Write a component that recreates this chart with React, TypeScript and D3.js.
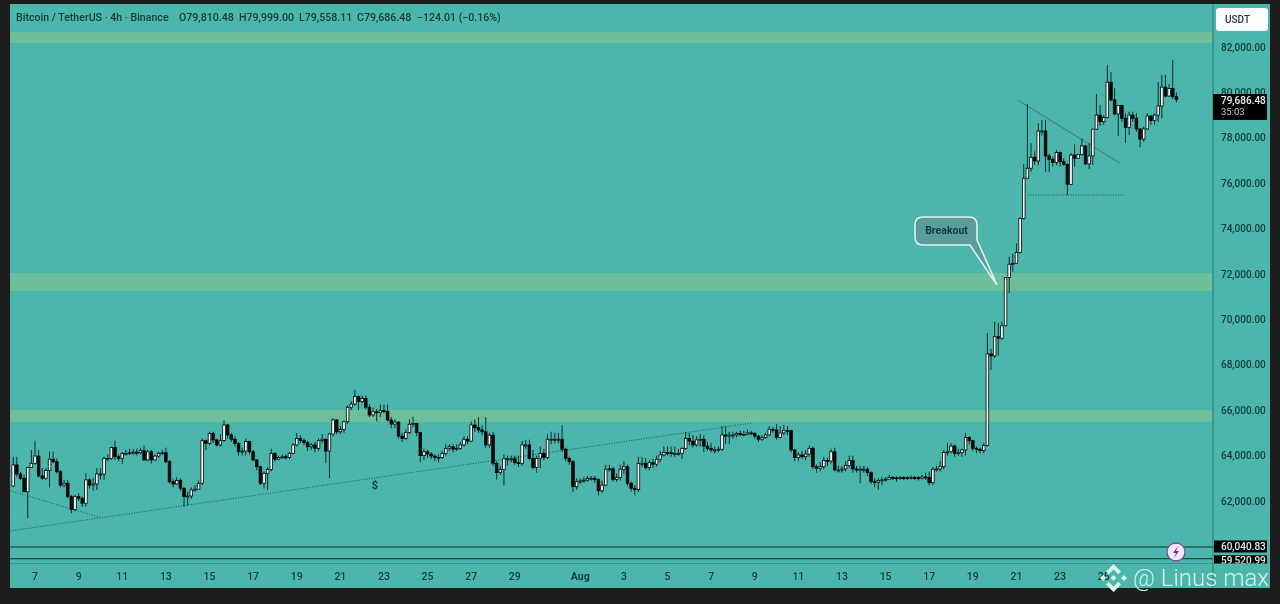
import { useMemo } from "react"
import * as d3 from "d3"

// prices in thousands of USDT, one value per 4h candle starting Jul 6 00:00
const firstOpen = 62.66
const closes = [
  63.59, 63.19, 63.0, 62.41, 63.48, 63.66, 63.98, 63.1, 63.0, 63.34,
  63.84, 63.73, 63.29, 62.7, 62.78, 62.19, 61.63, 62.19, 62.12, 61.9,
  62.93, 62.7, 62.75, 63.19, 63.19, 63.88, 63.88, 64.36, 63.95, 63.88,
  64.1, 64.1, 64.13, 64.15, 64.13, 64.22, 63.81, 64.17, 63.81, 63.98,
  64.1, 64.13, 63.73, 62.85, 62.75, 62.9, 62.56, 62.19, 62.22, 62.49,
  62.52, 62.78, 64.66, 64.54, 64.98, 64.69, 64.47, 64.66, 65.35, 64.91,
  64.72, 64.54, 64.17, 64.2, 64.62, 64.17, 63.81, 63.51, 62.78, 63.22,
  63.39, 64.1, 63.84, 63.92, 63.95, 63.92, 64.1, 64.47, 64.76, 64.66,
  64.57, 64.39, 64.47, 64.32, 64.66,
  64.72, 64.2, 64.95, 65.57, 65.05, 65.15, 65.49, 66.13, 66.27, 66.6, 66.38, 66.52, 66.13, 65.79, 65.93,
  65.9, 65.98, 65.95, 65.57, 65.39, 65.48, 64.86, 64.76, 65.01, 65.38, 65.42, 65.01, 64.0, 64.17, 64.07,
  63.98, 63.92, 63.92, 64.1, 64.32, 64.39, 64.29, 64.32, 64.47, 64.72, 64.64, 65.35, 65.23, 65.13, 65.05,
  64.47, 64.9, 63.66, 63.25, 63.39, 63.86, 63.86, 63.86, 63.69, 63.66, 64.47, 64.47, 63.88, 63.48, 63.88,
  64.1, 63.92, 64.72, 64.72, 64.72, 64.72, 64.28, 63.88, 63.73, 62.63, 62.85, 62.88, 62.92, 63.0, 63.0,
  62.95, 62.45, 62.7, 63.4, 63.42, 62.95, 63.04, 63.4, 63.51, 62.78, 62.56, 62.5, 63.66,
  63.66, 63.47, 63.69, 63.62, 63.84, 64.03, 64.14, 64.13, 64.1, 64.1, 64.1, 64.32, 64.76, 64.64, 64.47,
  64.69, 64.72, 64.42, 64.32, 64.25, 64.25, 64.28, 64.91, 64.86, 64.91, 64.91, 64.97, 64.94, 64.94, 65.0,
  64.98, 64.86, 64.72, 64.79, 64.91, 65.16, 65.13, 64.8, 65.0, 65.1, 65.1, 64.25, 63.92, 64.03, 63.95,
  64.07, 64.32, 63.51, 63.44, 63.51, 63.78, 63.76, 64.17, 63.37, 63.37, 63.41, 63.56, 63.78, 63.41, 63.4,
  63.4, 63.4, 63.25, 62.85, 62.83, 62.9, 62.93, 62.96, 63.04, 63.02, 63.0, 63.03, 63.02, 63.03, 63.04,
  63.03, 63.0, 63.06, 63.04, 62.81, 63.4, 63.41, 63.51, 64.14, 64.17, 64.42, 64.1, 64.13, 64.25, 64.8,
  64.66, 64.32, 64.28, 64.22, 64.44, 68.48, 68.39, 69.24, 69.17, 69.72, 71.85, 72.43, 72.47, 72.95, 74.45,
  76.22, 76.66, 77.14, 76.98, 78.3, 78.3, 77.2, 77.05, 76.91, 77.35, 76.95, 76.83, 75.95, 77.24, 77.1,
  77.27, 77.64, 76.85, 77.2, 78.38, 79.0, 78.71, 78.89, 80.45, 79.67, 79.05, 79.42, 78.86, 78.46, 79.0,
  78.86, 78.39, 77.94, 78.39, 78.96, 78.76, 79.0, 79.4, 80.23, 79.84, 80.17, 79.81, 79.686,
]
const highs = [
  63.95, 63.95, 63.28, 63.15, 63.51, 64.25, 64.66, 64.25, 63.45, 63.45,
  64.18, 64.18, 63.88, 63.37, 62.93, 62.93, 62.26, 62.26, 62.34, 62.19,
  63.22, 63.0, 63.0, 63.45, 63.45, 63.95, 64.05, 64.4, 64.66, 64.05,
  64.15, 64.25, 64.3, 64.28, 64.3, 64.35, 64.45, 64.25, 64.25, 64.05,
  64.18, 64.25, 64.35, 63.8, 62.95, 63.05, 63.0, 62.6, 62.4, 62.6,
  62.7, 62.9, 64.75, 64.7, 65.05, 65.05, 64.75, 64.95, 65.55, 65.4,
  65.0, 64.85, 64.6, 64.35, 64.75, 64.65, 64.25, 63.85, 63.55, 63.3,
  63.5, 64.3, 64.15, 64.0, 64.05, 64.05, 64.15, 64.55, 65.0, 64.9,
  64.75, 64.65, 64.55, 64.6, 64.75,
  64.95, 64.75, 65.0, 65.65, 65.6, 65.3, 65.55, 66.2, 66.4, 66.9, 66.65, 66.65, 66.65, 66.25, 66.1,
  66.05, 66.25, 66.25, 66.25, 65.7, 65.6, 65.5, 65.0, 65.15, 65.6, 65.71, 65.45, 65.05, 64.3, 64.25,
  64.15, 64.05, 64.05, 64.2, 64.5, 64.5, 64.5, 64.5, 64.6, 64.85, 64.85, 65.5, 65.6, 65.7, 65.35,
  65.69, 65.0, 65.05, 63.75, 63.55, 64.05, 64.0, 64.0, 64.0, 64.0, 64.65, 64.7, 64.7, 64.25, 64.0,
  64.4, 64.3, 64.95, 65.05, 65.0, 65.0, 65.35, 64.35, 63.95, 63.8, 63.0, 63.0, 63.05, 63.1, 63.1,
  63.1, 63.0, 62.9, 63.6, 63.6, 63.5, 63.2, 63.6, 63.75, 63.6, 62.85, 62.7, 63.95,
  63.95, 63.9, 63.8, 63.85, 64.0, 64.2, 64.4, 64.4, 64.4, 64.4, 64.3, 64.35, 65.05, 65.0, 64.9,
  64.85, 64.95, 64.9, 64.6, 64.55, 64.4, 64.4, 65.3, 65.3, 65.05, 65.05, 65.05, 65.1, 65.1, 65.15,
  65.1, 65.05, 64.9, 64.9, 65.0, 65.3, 65.25, 65.4, 65.3, 65.35, 65.3, 65.15, 64.3, 64.15, 64.2,
  64.25, 64.45, 64.4, 63.6, 63.7, 63.95, 63.9, 64.3, 64.35, 63.55, 63.55, 63.75, 64.0, 64.0, 63.55,
  63.55, 63.55, 63.5, 63.3, 63.0, 63.0, 63.05, 63.05, 63.15, 63.1, 63.1, 63.1, 63.1, 63.1, 63.12,
  63.1, 63.1, 63.15, 63.25, 63.3, 63.5, 63.55, 63.75, 64.25, 64.55, 64.55, 64.5, 64.3, 64.3, 65.0,
  64.85, 64.7, 64.4, 64.35, 64.55, 69.4, 68.7, 69.9, 69.85, 69.9, 71.85, 72.76, 72.9, 73.35, 74.5,
  76.85, 79.48, 77.76, 77.4, 78.64, 78.79, 78.79, 77.3, 77.17, 77.47, 77.4, 77.1, 76.88, 77.32, 77.71,
  77.3, 77.98, 77.68, 77.76, 78.38, 79.93, 79.45, 79.0, 81.21, 80.89, 80.18, 79.42, 79.45, 79.08, 79.15,
  79.15, 79.08, 78.42, 78.49, 79.08, 79.0, 79.08, 80.45, 80.77, 80.77, 80.37, 81.43, 79.999,
]
const lows = [
  62.6, 63.07, 62.93, 62.41, 61.24, 63.45, 63.6, 63.05, 62.93, 62.93,
  62.6, 63.66, 63.22, 62.6, 62.6, 62.12, 61.46, 61.55, 62.0, 61.75,
  61.75, 62.55, 62.45, 62.49, 62.95, 62.93, 63.75, 63.81, 63.8, 63.75,
  63.63, 64.0, 64.02, 64.03, 64.0, 64.05, 63.75, 63.75, 63.66, 63.78,
  63.9, 64.02, 63.66, 62.78, 62.6, 62.7, 62.45, 61.75, 61.8, 62.1,
  62.4, 62.5, 62.7, 64.25, 64.45, 64.55, 64.4, 64.4, 64.6, 64.75,
  64.6, 64.4, 64.0, 64.0, 64.0, 64.05, 63.75, 63.35, 62.7, 62.55,
  62.5, 63.3, 63.75, 63.8, 63.85, 63.82, 63.85, 64.05, 64.4, 64.55,
  64.45, 64.2, 64.25, 64.15, 64.2,
  64.55, 63.66, 63.0, 64.85, 64.95, 64.95, 65.0, 65.4, 66.0, 66.2, 66.0, 66.3, 66.05, 65.7, 65.7,
  65.5, 65.7, 65.85, 65.5, 65.2, 65.2, 64.75, 64.6, 64.7, 64.95, 65.25, 64.85, 63.7, 63.8, 63.9,
  63.85, 63.75, 63.7, 63.85, 64.0, 64.2, 64.15, 64.2, 64.25, 64.4, 64.5, 64.6, 65.05, 65.0, 64.9,
  64.35, 64.35, 63.55, 62.95, 63.15, 62.7, 63.55, 63.7, 63.6, 63.5, 63.55, 64.3, 63.8, 63.4, 63.25,
  63.45, 63.8, 63.85, 64.5, 64.55, 64.55, 64.15, 63.75, 63.6, 62.4, 62.5, 62.75, 62.8, 62.85, 62.9,
  62.8, 62.25, 62.35, 62.65, 63.3, 62.85, 62.85, 62.9, 63.2, 62.65, 62.4, 62.25, 62.4,
  63.5, 63.38, 63.35, 63.45, 63.5, 63.7, 63.95, 64.0, 63.95, 63.95, 64.0, 63.85, 64.25, 64.45, 64.35,
  64.4, 64.4, 64.15, 64.2, 64.15, 64.1, 64.15, 64.2, 64.5, 64.5, 64.75, 64.8, 64.85, 64.85, 64.9,
  64.9, 64.75, 64.6, 64.65, 64.75, 64.85, 65.0, 64.7, 64.75, 64.9, 64.9, 64.15, 63.75, 63.75, 63.85,
  63.8, 63.95, 63.4, 63.25, 63.3, 63.4, 63.55, 63.65, 63.3, 63.25, 63.25, 63.3, 63.45, 63.25, 63.25,
  62.78, 63.25, 63.1, 62.75, 62.6, 62.5, 62.7, 62.85, 62.95, 62.92, 62.85, 62.93, 62.92, 62.93, 62.95,
  62.93, 62.9, 62.95, 62.92, 62.7, 62.7, 63.3, 63.3, 63.4, 64.0, 64.1, 63.95, 64.0, 63.95, 64.0,
  64.5, 64.2, 64.1, 64.1, 64.1, 64.4, 67.77, 68.3, 68.4, 69.1, 69.7, 71.15, 72.1, 72.47, 72.9,
  74.4, 76.2, 76.5, 76.8, 76.8, 78.1, 76.5, 76.5, 76.73, 76.8, 76.73, 76.76, 75.48, 75.92, 76.73,
  77.07, 77.2, 76.8, 76.61, 76.8, 78.35, 78.52, 78.57, 78.86, 79.59, 79.0, 78.08, 78.71, 77.76, 78.13,
  78.7, 78.27, 77.58, 77.83, 78.35, 78.57, 78.57, 78.71, 78.86, 79.78, 79.81, 79.7, 79.558,
]

const priceTicks = [82, 80, 78, 76, 74, 72, 70, 68, 66, 64, 62]
// day labels, index counted in candles from the first one
const dateLabels = ["7", "9", "11", "13", "15", "17", "19", "21", "23", "25", "27", "29", "Aug", "3", "5", "7", "9", "11", "13", "15", "17", "19", "21", "23", "25"]
const dateIndexes = [6, 18, 30, 42, 54, 66, 78, 90, 102, 114, 126, 138, 156, 168, 180, 192, 204, 216, 228, 240, 252, 264, 276, 288, 300]
const zones = [[82.66, 82.18], [72.04, 71.25], [66.01, 65.48]]
const levels = [60.04083, 59.52099]

const ink = "#0c3c39"

function App() {
  const x = useMemo(() => d3.scaleLinear().domain([0, 320]).range([13.2, 1176.4]), [])
  const y = useMemo(() => d3.scaleLinear().domain([82, 62]).range([47, 501]), [])
  const fmt = d3.format(",.2f")

  const segment = d3.line<[number, number]>().x((d) => x(d[0])).y((d) => y(d[1]))

  const candles = closes.map((c, i) => {
    const o = i === 0 ? firstOpen : closes[i - 1]
    return { i, o, c, h: Math.max(highs[i], o, c), l: Math.min(lows[i], o, c) }
  })

  const tipX = x(270.6)
  const tipY = y(71.52)

  return (
    <svg
      width={1280}
      height={604}
      style={{ position: "absolute", left: 0, top: 0, display: "block" }}
      fontFamily="Roboto, sans-serif"
    >
      <defs>
        {/* the source is a soft screenshot */}
        <filter id="soft" x="0" y="0" width="100%" height="100%">
          <feGaussianBlur stdDeviation={0.35} />
        </filter>
        <clipPath id="lastLevel">
          <rect x={1210} y={540} width={60} height={23.5} />
        </clipPath>
      </defs>

      <g filter="url(#soft)">
        <rect width={1280} height={604} fill="#1d1d1d" />
        <rect x={10} y={4} width={1260} height={584} fill="#4db6ac" />

        {/* Zones */}
        {zones.map((z, i) => (
          <rect key={i} x={10} y={y(z[0])} width={1203} height={y(z[1]) - y(z[0])} fill="#6dbf9b" />
        ))}

        {/* Key levels */}
        {levels.map((l) => (
          <line key={l} x1={10} x2={1213} y1={y(l) + 1.5} y2={y(l) + 1.5} stroke="#0e2f2c" strokeWidth={1.1} />
        ))}
        <line x1={10} x2={1213} y1={563.5} y2={563.5} stroke="#3d948c" strokeWidth={1} />

        {/* Trend lines */}
        <path d={segment([[-0.8, 60.68], [203.4, 65.44]]) ?? ""} fill="none" stroke="#1f4f4b" strokeWidth={0.9} strokeDasharray="1 1.5" />
        <path d={segment([[-0.8, 62.45], [24, 61.27]]) ?? ""} fill="none" stroke="#1f4f4b" strokeWidth={0.9} strokeDasharray="1 1.5" />
        <path d={segment([[276.5, 79.65], [304.6, 76.87]]) ?? ""} fill="none" stroke="#3a7a75" strokeWidth={1} />
        <path d={segment([[279.2, 75.48], [306, 75.48]]) ?? ""} fill="none" stroke="#1f4f4b" strokeWidth={0.9} strokeDasharray="1 1.5" />

        {/* Candles */}
        <g>
          {candles.map((d) => {
            const up = d.c >= d.o
            const top = y(Math.max(d.o, d.c))
            const bottom = y(Math.min(d.o, d.c))
            return (
              <g key={d.i}>
                <line x1={x(d.i)} x2={x(d.i)} y1={y(d.h)} y2={y(d.l)} stroke="#0a2e2c" strokeWidth={1} />
                <rect
                  x={x(d.i) - 1.3}
                  y={top}
                  width={2.6}
                  height={Math.max(bottom - top, 1)}
                  fill={up ? "#f7fdfc" : "#030707"}
                  stroke="#030707"
                  strokeWidth={0.8}
                />
              </g>
            )
          })}
        </g>

        <text x={x(99.5)} y={489} fontSize={11} fontWeight={700} fill={ink} textAnchor="middle">$</text>

        {/* Breakout callout */}
        <path
          d={`M923 217 H969 Q977 217 977 225 V240 L${tipX} ${tipY} L970 245 H923 Q915 245 915 237 V225 Q915 217 923 217 Z`}
          fill="#5b9c9c"
          stroke="#d9f5f0"
          strokeWidth={1.6}
        />
        <text x={946.5} y={234} fontSize={10.5} fontWeight={700} fill={ink} textAnchor="middle">Breakout</text>

        {/* Header */}
        <g fontSize={10.6} fill={ink} fontWeight={500}>
          <text x={16} y={21}>Bitcoin / TetherUS · 4h · Binance</text>
          <text x={179} y={21}>O79,810.48</text>
          <text x={239} y={21}>H79,999.00</text>
          <text x={299} y={21}>L79,558.11</text>
          <text x={357} y={21}>C79,686.48</text>
          <text x={417} y={21}>−124.01 (−0.16%)</text>
        </g>

        {/* Price axis */}
        <line x1={1213} x2={1213} y1={4} y2={588} stroke="#2a7a73" strokeWidth={1} />
        <rect x={1216} y={8} width={52} height={23} rx={3} fill="#fbfefe" />
        <text x={1225} y={23} fontSize={10} fill="#2b3a3a" fontWeight={500}>USDT</text>
        <g fontSize={10} fill={ink} fontWeight={500}>
          {priceTicks.map((t) => (
            <text key={t} x={1221} y={y(t) + 3.5}>{fmt(t * 1000)}</text>
          ))}
        </g>
        <rect x={1213} y={94} width={54} height={26} fill="#050505" />
        <text x={1221} y={104} fontSize={10} fill="#e8f2f1" fontWeight={500}>79,686.48</text>
        <text x={1221} y={115} fontSize={9.5} fill="#b7c4c3">35:03</text>
        <g clipPath="url(#lastLevel)">
          <rect x={1214} y={y(levels[0]) - 5} width={53} height={12} fill="#050505" />
          <text x={1221} y={y(levels[0]) + 4.5} fontSize={10} fill="#dfe9e8" fontWeight={500}>{fmt(levels[0] * 1000)}</text>
          <rect x={1214} y={y(levels[1]) - 2} width={53} height={10} fill="#050505" />
          <text x={1221} y={y(levels[1]) + 7} fontSize={10} fill="#dfe9e8" fontWeight={500}>{fmt(levels[1] * 1000)}</text>
        </g>

        {/* Time axis */}
        <g fontSize={10.5} fill={ink} fontWeight={500} textAnchor="middle">
          {dateLabels.map((t, i) => (
            <text key={i} x={x(dateIndexes[i])} y={580} fontWeight={t === "Aug" ? 700 : 500}>{t}</text>
          ))}
        </g>

        {/* Alert badge */}
        <circle cx={1176} cy={552} r={9} fill="#f1e9f7" stroke="#7a4fa0" strokeWidth={1.3} />
        <path d="M1178 546 L1173 553 H1176 L1174 558 L1179 551 H1176 Z" fill="#7a2f9c" />

        {/* Watermark */}
        <g fill="#d8f2ee">
          <g transform="translate(1113.5 578)">
            <path d="M0 -14 L7.5 -6.5 L4.8 -3.8 L0 -8.6 L-4.8 -3.8 L-7.5 -6.5 Z" />
            <path d="M0 14 L7.5 6.5 L4.8 3.8 L0 8.6 L-4.8 3.8 L-7.5 6.5 Z" />
            <path d="M-10.5 -3 L-7.5 0 L-10.5 3 L-13.5 0 Z" />
            <path d="M10.5 -3 L13.5 0 L10.5 3 L7.5 0 Z" />
            <path d="M0 -3 L3 0 L0 3 L-3 0 Z" />
          </g>
          <text x={1133} y={586} fontSize={24} fontWeight={300}>@ Linus max</text>
        </g>
      </g>
    </svg>
  )
}

export default App
